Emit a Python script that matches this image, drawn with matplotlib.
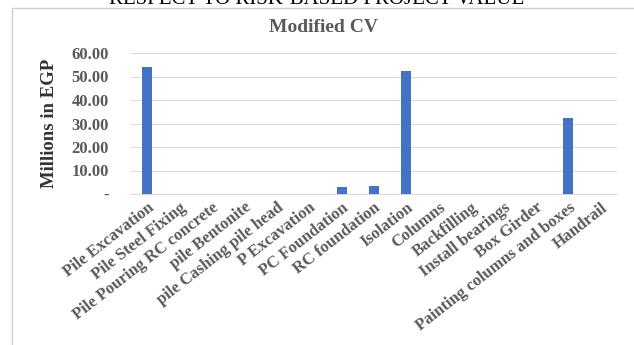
import matplotlib.pyplot as plt
from matplotlib.patches import Rectangle
from matplotlib.ticker import FuncFormatter

activities = ["Pile Excavation", "Pile Steel Fixing", "Pile Pouring RC concrete",
              "pile Bentonite", "pile Cashing pile head", "P Excavation",
              "PC Foundation", "RC foundation", "Isolation", "Columns",
              "Backfilling", "Install bearings", "Box Girder",
              "Painting columns and boxes", "Handrail"]
modified_cv = [54.0, 0, 0, 0, 0, 0, 3.1, 3.6, 52.3, 0, 0, 0, 0, 32.5, 0]

plt.rcParams["font.family"] = ["Liberation Serif", "DejaVu Serif"]
plt.rcParams["font.weight"] = "bold"

fig = plt.figure(figsize=(6.34, 3.45), dpi=100)
ax = fig.add_axes([131 / 634, 1 - 194 / 345, 486 / 634, 141 / 345])

# chart frame and the caption above it
fig.patches.append(Rectangle((12 / 634, -0.1), 1.0, 1 - 8 / 345 + 0.1,
                             transform=fig.transFigure, fill=False,
                             edgecolor="#d0d0d0", linewidth=1.0))
fig.text(0.5, 1 + 1 / 345, "RESPECT TO RISK-BASED PROJECT VALUE", ha="center",
         va="center", fontsize=15, fontweight="normal", color="black")

ax.bar(range(len(activities)), modified_cv, width=0.31, color="#4472C4", zorder=3)

ax.set_xlim(-0.5, len(activities) - 0.5)
ax.set_ylim(0, 60)
ax.set_yticks(range(0, 61, 10))
ax.yaxis.set_major_formatter(FuncFormatter(lambda v, p: "-" if v == 0 else f"{v:.2f}"))
ax.grid(axis="y", color="#d9d9d9", linewidth=0.8, zorder=0)
for s in ["top", "right", "left"]:
    ax.spines[s].set_visible(False)
ax.spines["bottom"].set_color("#d9d9d9")
ax.tick_params(length=0, labelsize=12, labelcolor="#595959")
ax.tick_params(axis="y", pad=16)
ax.tick_params(axis="x", pad=4)
ax.set_xticks(range(len(activities)))
ax.set_xticklabels(activities, rotation=38, ha="right", rotation_mode="anchor")

ax.set_ylabel("Millions in EGP", fontsize=13.5, fontweight="bold", color="#333333",
              labelpad=10)
fig.text(323 / 634, 1 - 28 / 345, "Modified CV", ha="center", va="center",
         fontsize=14, color="#595959")

fig.savefig("out.png", dpi=100)
